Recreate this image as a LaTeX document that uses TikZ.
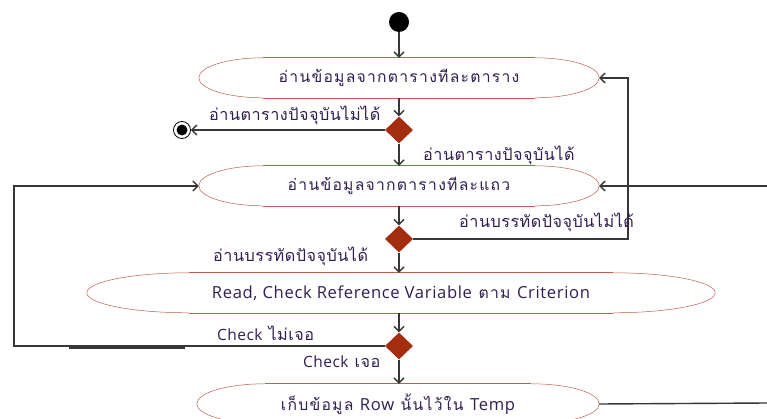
\documentclass[tikz,border=0pt]{standalone}
\usepackage{fontspec}
\newfontfamily\thai[Script=Thai,LetterSpace=3]{Loma}
\newfontfamily\thaiw[Script=Thai,LetterSpace=8]{Loma}
\newfontfamily\lat[LetterSpace=3]{Open Sans}
\newfontfamily\latw[LetterSpace=4]{Open Sans}
\usetikzlibrary{arrows.meta,shapes.geometric,calc}
\definecolor{txt}{RGB}{50,30,80}
\definecolor{arr}{RGB}{55,55,55}
\definecolor{dia}{RGB}{165,45,15}
\definecolor{capc}{RGB}{190,95,75}
\newcommand\la[1]{{\lat\fontsize{15.5}{18}\selectfont #1}}
\newcommand\lw[1]{{\latw\fontsize{16.6}{18}\selectfont #1}}
\tikzset{
  act/.style={draw=none, minimum height=40pt, inner sep=0pt, font=\thaiw\fontsize{15.7}{18}\selectfont, text=txt},
  lbl/.style={font=\thai\fontsize{16.2}{18}\selectfont, text=txt, inner sep=0pt},
  flow/.style={draw=arr, line width=1.4pt, -{Straight Barb[length=5pt,width=10pt]}},
  plain/.style={draw=arr, line width=1.4pt},
  dec/.style={diamond, fill=dia, minimum width=28pt, minimum height=27pt, inner sep=0pt},
  capline/.style={draw=capc, line width=1pt},
  caparc/.style={draw=capc, line width=0.5pt},
}
\newcommand\capoutline[2]{%
  \draw[capline] ($(#1.north west)+(#2pt,0)$) -- ($(#1.north east)+(-#2pt,0)$);
  \draw[capline] ($(#1.south west)+(#2pt,0)$) -- ($(#1.south east)+(-#2pt,0)$);
  \draw[caparc] ($(#1.north east)+(-#2pt,0)$) arc[start angle=90,end angle=-90,x radius=#2pt,y radius=20pt];
  \draw[caparc] ($(#1.north west)+(#2pt,0)$) arc[start angle=90,end angle=270,x radius=#2pt,y radius=20pt];
}
\begin{document}
\begin{tikzpicture}[x=1pt,y=1pt]
\clip (0,0) rectangle (767,-419);
\fill[white] (0,0) rectangle (767,-419);

\node[circle, fill=black, minimum size=20pt, inner sep=0pt] (start) at (399,-22) {};
\node[circle, draw=black, line width=0.8pt, minimum size=17pt, inner sep=0pt] (fin) at (182,-130) {};
\fill[black] (fin.center) circle (5.5pt);

\node[act, minimum width=400pt] (n1) at (399,-78) {อ่านข้อมูลจากตารางทีละตาราง};
\node[act, minimum width=400pt] (n2) at (399,-186) {อ่านข้อมูลจากตารางทีละแถว};
\node[act, minimum width=628pt] (n3) at (401,-293) {\lw{Read, Check Reference Variable} ตาม \lw{Criterion}};
\node[act, minimum width=402pt] (n4) at (398,-404) {เก็บข้อมูล \lw{Row} นั้นไว้ใน \lw{Temp}};
\capoutline{n1}{64}
\capoutline{n2}{64}
\capoutline{n3}{102}
\capoutline{n4}{68}

\node[dec] (d1) at (399,-130) {};
\node[dec] (d2) at (399,-239) {};
\node[dec] (d3) at (399,-346) {};

\coordinate (c1) at (628,-78);
\coordinate (c2) at (14,-186);
\coordinate (rin) at (767,-186);
\coordinate (rout) at (767,-403);
\coordinate (s1) at (69,-348);
\coordinate (s2) at (185,-348);

\draw[flow] (start) -- (start.south |- n1.north);
\draw[flow] (d1.north |- n1.south) -- (d1.north);
\draw[flow] (d1.west) -- (fin);
\draw[flow] (d1.south) -- (d1.south |- n2.north);
\draw[flow] (d2.north |- n2.south) -- (d2.north);
\draw[flow] (d2.south) -- (d2.south |- n3.north);
\draw[flow] (d3.north |- n3.south) -- (d3.north);
\draw[flow] (d3.south) -- (d3.south |- n4.north);
\draw[flow] (d2.east) -| (c1) -- (n1.east);
\draw[flow] (rin) -- (n2.east);
\draw[flow] (d3.west) -| (c2) -- (n2.west);
\draw[plain] (n4.east) -- (rout);
\draw[draw=arr, line width=2pt] (s1) -- (s2);

\node[lbl, anchor=west] (l1) at (209,-115) {อ่านตารางปัจจุบันไม่ได้};
\node[lbl, anchor=west] (l2) at (423,-155) {อ่านตารางปัจจุบันได้};
\node[lbl, anchor=west] (l3) at (459,-222) {อ่านบรรทัดปัจจุบันไม่ได้};
\node[lbl, anchor=west] (l4) at (213,-256) {อ่านบรรทัดปัจจุบันได้};
\node[lbl, anchor=west] (l5) at (217,-333) {\la{Check} ไม่เจอ};
\node[lbl, anchor=west] (l6) at (303,-362) {\la{Check} เจอ};
\end{tikzpicture}
\end{document}
